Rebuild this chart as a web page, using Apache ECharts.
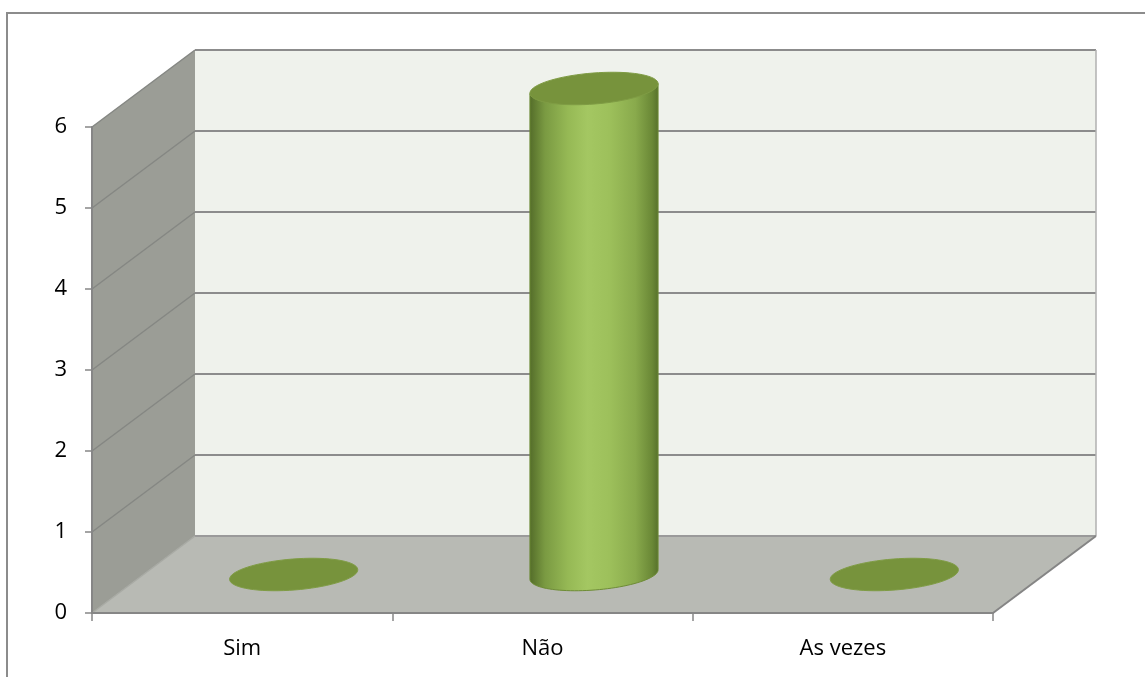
<!DOCTYPE html>
<html>
<head>
<meta charset="utf-8">
<script src="https://cdn.jsdelivr.net/npm/echarts@6/dist/echarts.min.js"></script>
<style>
  html, body { margin: 0; padding: 0; background: #ffffff; }
  #chart { width: 1145px; height: 677px; }
</style>
</head>
<body>
<div id="chart"></div>
<script>
// Answers per option
const categories = ['Sim', 'Não', 'As vezes'];
const values = [0, 6, 0];
// Value axis ticks (also used for the wall grid)
const yTicks = [0, 1, 2, 3, 4, 5, 6];

// 3D box depth offset (screen px) and cylinder styling
const DEPTH_X = 103;
const DEPTH_Y = -77;
const TILT = 4.5 * Math.PI / 180;
const FONT = "'Open Sans', 'Liberation Sans', sans-serif";

function ellipsePoint(cx, cy, rx, ry, t) {
  const x = rx * Math.cos(t), y = ry * Math.sin(t);
  return [cx + x * Math.cos(TILT) + y * Math.sin(TILT),
          cy - x * Math.sin(TILT) + y * Math.cos(TILT)];
}

function ellipsePoints(cx, cy, rx, ry) {
  const pts = [];
  for (let i = 0; i < 72; i++) pts.push(ellipsePoint(cx, cy, rx, ry, i / 72 * Math.PI * 2));
  return pts;
}

function line(x1, y1, x2, y2, color, w) {
  return { type: 'line', shape: { x1, y1, x2, y2 }, style: { stroke: color, lineWidth: w }, silent: true };
}

function poly(points, fill) {
  return { type: 'polygon', shape: { points }, style: { fill }, silent: true };
}

// Side wall, back wall, floor and wall grid lines
function renderWalls(params, api) {
  const cs = params.coordSys;
  const x0 = cs.x, x1 = cs.x + cs.width;
  const yB = api.coord([0, yTicks[0]])[1];
  const yT = api.coord([0, yTicks[yTicks.length - 1]])[1];
  const dx = DEPTH_X, dy = DEPTH_Y;
  const children = [
    poly([[x0, yT], [x0 + dx, yT + dy], [x0 + dx, yB + dy], [x0, yB]], '#9b9d96'),
    poly([[x0 + dx, yT + dy], [x1 + dx, yT + dy], [x1 + dx, yB + dy], [x0 + dx, yB + dy]], '#eff2ec'),
    poly([[x0, yB], [x0 + dx, yB + dy], [x1 + dx, yB + dy], [x1, yB]], '#b8bab4')
  ];
  yTicks.forEach(function (v) {
    if (v === 0) return;
    const y = api.coord([0, v])[1];
    children.push(line(x0 + dx, y + dy, x1 + dx, y + dy, '#8c8c8c', 2));
    children.push(line(x0, y, x0 + dx, y + dy, '#858783', 1.5));
  });
  children.push(line(x1 + dx, yT + dy, x1 + dx, yB + dy, '#b0b0b0', 1.5));
  children.push(line(x0 + dx, yB + dy, x1 + dx, yB + dy, '#9a9a9a', 2));
  children.push(line(x0, yB, x0 + dx, yB + dy, '#a8aaa4', 1.5));
  children.push(line(x1 + dx, yB + dy, x1, yB, '#858585', 2));
  return { type: 'group', children };
}

// Cylinders standing in the middle of the box depth
function renderCylinder(params, api) {
  const idx = api.value(0);
  const v = api.value(1);
  const base = api.coord([idx, 0]);
  const top = api.coord([idx, v]);
  const band = api.size([1, 0])[0];
  const rx = band * 0.214, ry = 15.5;
  const cx = base[0] + DEPTH_X / 2;
  const yb = base[1] + DEPTH_Y / 2;
  const yt = top[1] + DEPTH_Y / 2;
  const children = [];
  if (yb - yt > 1) {
    const body = [ellipsePoint(cx, yt, rx, ry, Math.PI)];
    for (let i = 0; i <= 48; i++) body.push(ellipsePoint(cx, yb, rx, ry, Math.PI - i / 48 * Math.PI));
    body.push(ellipsePoint(cx, yt, rx, ry, 0));
    children.push({
      type: 'polygon', shape: { points: body }, silent: true,
      style: {
        fill: new echarts.graphic.LinearGradient(0, 0, 1, 0, [
          { offset: 0, color: '#536c29' },
          { offset: 0.12, color: '#7a9a42' },
          { offset: 0.3, color: '#96b955' },
          { offset: 0.45, color: '#a4c762' },
          { offset: 0.62, color: '#9dc05b' },
          { offset: 0.82, color: '#89aa4c' },
          { offset: 0.95, color: '#6a8836' },
          { offset: 1, color: '#56702b' }
        ]),
        stroke: '#6e8c36', lineWidth: 1
      }
    });
  }
  children.push({
    type: 'polygon', shape: { points: ellipsePoints(cx, yt, rx, ry) }, silent: true,
    style: { fill: '#77933c', stroke: '#7f9c44', lineWidth: 1 }
  });
  return { type: 'group', children };
}

const chart = echarts.init(document.getElementById('chart'), null, { renderer: 'canvas' });
chart.setOption({
  animation: false,
  backgroundColor: '#ffffff',
  textStyle: { fontFamily: FONT },
  graphic: [{
    type: 'rect', shape: { x: 7, y: 13, width: 1160, height: 700 },
    style: { fill: 'none', stroke: '#8c8c8c', lineWidth: 2 }, z: -10, silent: true
  }],
  grid: { left: 92, right: 152, top: 127, bottom: 64 },
  xAxis: {
    type: 'category',
    data: categories,
    boundaryGap: true,
    z: 5,
    axisLine: { lineStyle: { color: '#868686', width: 2 } },
    axisTick: { show: true, length: 8, lineStyle: { color: '#868686', width: 1.5 } },
    axisLabel: { color: '#000000', fontSize: 22, fontFamily: FONT, margin: 25 },
    splitLine: { show: false }
  },
  yAxis: {
    type: 'value',
    min: yTicks[0],
    max: yTicks[yTicks.length - 1],
    interval: 1,
    z: 5,
    axisLine: { show: true, lineStyle: { color: '#868686', width: 2 } },
    axisTick: { show: true, length: 7, lineStyle: { color: '#868686', width: 1.5 } },
    axisLabel: { color: '#000000', fontSize: 22, fontFamily: FONT, margin: 25, padding: [4, 0, 0, 0] },
    splitLine: { show: false }
  },
  series: [
    {
      type: 'custom',
      name: 'walls',
      renderItem: renderWalls,
      data: [[0, 0]],
      clip: false,
      z: 1,
      silent: true
    },
    {
      type: 'custom',
      name: 'cylinders',
      renderItem: renderCylinder,
      data: values.map(function (v, i) { return [i, v]; }),
      encode: { x: 0, y: 1 },
      clip: false,
      z: 3,
      silent: true
    }
  ]
});
</script>
</body>
</html>
